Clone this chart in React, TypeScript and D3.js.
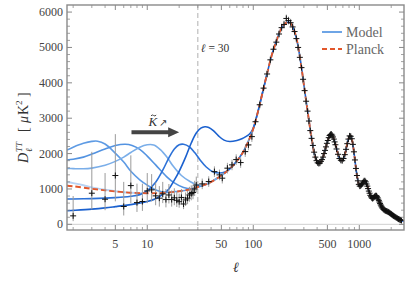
import React from 'react';
import * as d3 from 'd3';

// ---------- data ----------
const planckCurve: [number, number][] = [
  [1.75, 1090], [2, 1075], [3, 1005], [4, 960], [5, 930], [7, 895], [10, 880], [15, 895],
  [20, 935], [25, 985], [30, 1055], [35, 1120], [40, 1200], [50, 1380], [60, 1570], [70, 1790],
  [80, 2040], [93, 2450], [100, 2700], [111, 3200], [120, 3620], [134, 4220], [150, 4800],
  [166, 5200], [180, 5480], [192, 5620], [205, 5700], [215, 5720], [230, 5650], [245, 5450],
  [257, 5220], [270, 4880], [286, 4400], [300, 3950], [319, 3380], [340, 2800], [357, 2380],
  [380, 1950], [400, 1770], [413, 1720], [430, 1740], [450, 1860], [475, 2100], [500, 2330],
  [530, 2530], [550, 2540], [575, 2420], [600, 2230], [630, 1980], [660, 1820], [680, 1800],
  [700, 1830], [730, 1970], [760, 2200], [790, 2420], [820, 2510], [845, 2440], [870, 2250],
  [900, 1930], [930, 1580], [960, 1300], [990, 1130], [1010, 1080], [1040, 1100], [1070, 1160],
  [1100, 1215], [1125, 1235], [1150, 1200], [1200, 1060], [1250, 880], [1300, 760], [1330, 730],
  [1370, 750], [1410, 800], [1450, 810], [1490, 760], [1550, 640], [1600, 540], [1650, 460],
  [1700, 410], [1770, 380], [1850, 360], [1920, 330], [2000, 290], [2100, 240], [2200, 200],
  [2300, 160], [2400, 130], [2500, 105], [2640, 80],
];

const modelK0: [number, number][] = [
  [1.75, 1195], [2, 1165], [2.5, 1105], [3, 1045], [4, 978], [5, 937], [6, 907],
];
const modelK1: [number, number][] = [
  [1.75, 2100], [2, 2180], [2.5, 2290], [3, 2345], [3.4, 2350], [4, 2270], [4.85, 2050], [6, 1760],
  [7, 1500], [8.5, 1260], [10, 1110], [12.4, 960], [15, 905], [18, 925],
];
const modelK2: [number, number][] = [
  [1.75, 1820], [2, 1840], [2.5, 1900], [3, 1985], [4, 2130], [5, 2230], [6.2, 2265], [7.2, 2230],
  [8.5, 2120], [10, 1930], [12, 1680], [15.2, 1350], [18, 1170], [22, 1040], [27, 1005],
];
const modelK3: [number, number][] = [
  [1.75, 1580], [2, 1575], [2.5, 1570], [3, 1590], [4, 1670], [5, 1780], [6, 1900], [7, 2030],
  [8.5, 2180], [10, 2250], [11.5, 2245], [13.3, 2110], [15.5, 1880], [17.6, 1640], [21, 1380],
  [25.3, 1210], [30, 1110], [35, 1120],
];
const modelK4: [number, number][] = [
  [1.75, 716], [2, 718], [3, 728], [4, 740], [5, 755], [6, 772], [7, 795], [8.5, 840], [10, 950],
  [12, 1190], [14, 1530], [16, 1880], [18, 2130], [20, 2250], [22, 2265], [25, 2190], [28, 2030],
  [31.5, 1820], [36, 1620], [42, 1480], [48, 1450], [54, 1480],
];
const modelK5: [number, number][] = [
  [1.75, 385], [2, 395], [3, 430], [4, 465], [5, 500], [6, 530], [8, 585], [10, 645], [12, 725],
  [14, 845], [16, 1000], [18, 1250], [20, 1500], [23, 1900], [26, 2300], [29, 2580], [32, 2720],
  [35, 2760], [38, 2740], [42, 2650], [47, 2500], [53, 2380], [60, 2340], [70, 2370], [78, 2420],
  [85, 2480], [91, 2540], [96, 2620], [100, 2720],
];
const modelCurves = [modelK0, modelK1, modelK2, modelK3, modelK4, modelK5];

// low-ell points: [ell, D, lower, upper]
const lowEllData: [number, number, number, number][] = [
  [2, 240, 90, 800], [3, 880, 420, 2050], [4, 710, 400, 1450], [5, 1380, 650, 2550],
  [6, 505, 250, 1200], [7, 1095, 600, 1950], [8, 615, 350, 1150], [9, 645, 380, 1150],
  [10, 945, 600, 1450], [11, 975, 650, 1420], [12, 805, 540, 1180], [13, 740, 500, 1080],
  [14, 860, 600, 1200], [15, 700, 480, 1000], [16, 830, 590, 1140], [17, 700, 500, 960],
  [18, 750, 540, 1020], [19, 680, 490, 920], [20, 640, 470, 870], [21, 760, 570, 1000],
  [22, 575, 430, 760], [23, 690, 520, 900], [24, 740, 570, 950], [25, 830, 640, 1060],
  [26, 870, 680, 1100], [27, 900, 710, 1120], [28, 1000, 800, 1230], [29, 1110, 900, 1350],
];

// high-ell binned points: [ell, D]
const highEllData: [number, number][] = [
  [33, 1144], [38, 1209], [43, 1490], [48, 1398], [51, 1305], [57, 1588], [63, 1680], [69, 1830],
  [76, 1746], [84, 2056], [90, 2245], [97, 2480], [105, 2900], [115, 3380], [125, 3850],
  [135, 4250], [145, 4650], [155, 4950], [165, 5150], [175, 5380], [185, 5560], [195, 5650],
  [205, 5820], [215, 5760], [225, 5700], [235, 5580], [245, 5450], [255, 5250], [265, 5000],
  [275, 4720], [285, 4430], [295, 4100], [305, 3780], [315, 3480], [325, 3200], [335, 2920],
  [345, 2650], [355, 2430], [365, 2230], [375, 2040], [385, 1900], [395, 1800], [405, 1740],
  [415, 1720], [425, 1730], [435, 1780], [445, 1830], [455, 1900], [465, 2000], [475, 2090],
  [485, 2190], [495, 2290], [505, 2370], [515, 2450], [525, 2510], [535, 2540], [545, 2550],
  [555, 2520], [565, 2470], [575, 2410], [585, 2330], [595, 2250], [610, 2130], [630, 1980],
  [650, 1860], [670, 1810], [690, 1800], [710, 1860], [730, 1970], [750, 2120], [770, 2280],
  [790, 2410], [810, 2500], [830, 2490], [850, 2420], [870, 2260], [890, 2050], [910, 1820],
  [930, 1580], [950, 1380], [970, 1230], [990, 1130], [1010, 1080], [1030, 1090], [1050, 1120],
  [1070, 1160], [1090, 1200], [1110, 1230], [1130, 1230], [1150, 1200], [1170, 1140],
  [1190, 1080], [1210, 1010], [1230, 940], [1250, 880], [1270, 820], [1290, 780], [1310, 750],
  [1330, 730], [1350, 740], [1370, 760], [1390, 780], [1410, 800], [1430, 810], [1450, 805],
  [1470, 780], [1490, 750], [1510, 710], [1530, 670], [1550, 630], [1570, 590], [1590, 550],
  [1610, 520], [1630, 490], [1650, 460], [1680, 430], [1710, 410], [1740, 395], [1770, 385],
  [1800, 375], [1830, 365], [1860, 355], [1890, 345], [1920, 330], [1950, 315], [1980, 300],
  [2010, 285], [2040, 270], [2070, 255], [2100, 240], [2140, 225], [2180, 210], [2220, 195],
  [2260, 180], [2300, 165], [2340, 150], [2380, 140], [2420, 130], [2460, 120], [2500, 110],
];
// error size by ell band: [upper ell of band, error]
const highEllErrBands: [number, number][] = [
  [100, 150], [400, 110], [1000, 55], [1600, 35], [3000, 25],
];

const xMajorTicks = [5, 10, 50, 100, 500, 1000];
const xMinorTicks = [2, 3, 4, 6, 7, 8, 9, 20, 30, 40, 60, 70, 80, 90, 200, 300, 400, 600, 700, 800, 900, 2000];
const yMajorTicks = [0, 1000, 2000, 3000, 4000, 5000, 6000];
const yMinorTicks = d3.range(200, 6200, 200).filter((v) => v % 1000 !== 0);
const ellCut = 30;
const arrowSpan: [number, number] = [7.1, 20];
const arrowLevel = 2600;

// ---------- styles ----------
const MODEL_COLORS = ['#b9d3f3', '#5e9be4', '#5393e1', '#7aaee9', '#2c71d7', '#1b61cf'];
const PLANCK_COLOR = '#e2572b';
const FRAME = '#8a8a8a';
const FONT = '"Liberation Serif", "Times New Roman", serif';

const W = 411;
const H = 288;
const PL = 67, PR = 404, PT = 5, PB = 230;

export default function App() {
  const x = d3.scaleLog().domain([1.75, 2640]).range([PL, PR]);
  const y = d3.scaleLinear().domain([-160, 6200]).range([PB, PT]);
  const line = d3
    .line<[number, number]>()
    .x((d) => x(d[0]))
    .y((d) => y(d[1]))
    .curve(d3.curveCatmullRom.alpha(0.5));

  const fullModel = (low: [number, number][], isLast: boolean) => {
    const last = low[low.length - 1][0];
    const rest = planckCurve.filter((p) => p[0] > last * 1.05 && (isLast || p[0] < last * 2.5));
    return low.concat(rest);
  };
  const errFor = (ell: number) => {
    const band = highEllErrBands.find((b) => ell <= b[0]);
    return band ? band[1] : 25;
  };

  const cross = (cx: number, cy: number, k: string) => (
    <path key={k} d={`M${cx - 3},${cy}H${cx + 3}M${cx},${cy - 3}V${cy + 3}`} stroke="#111" strokeWidth={1} />
  );

  const ax0 = x(arrowSpan[0]);
  const ax1 = x(arrowSpan[1]);
  const ay = y(arrowLevel);
  const kx = ax0 + 17;
  const ky = ay - 6;

  return (
    <svg width={W} height={H} style={{ position: 'absolute', left: 0, top: 0, background: '#fff', fontFamily: FONT }}>
      <defs>
        <clipPath id="plotclip">
          <rect x={PL} y={PT} width={PR - PL} height={PB - PT} />
        </clipPath>
      </defs>
      <rect x={0} y={0} width={W} height={H} fill="#fff" />
      <g clipPath="url(#plotclip)">
        <line x1={PL} x2={PR} y1={y(0)} y2={y(0)} stroke="#d0d0d0" strokeWidth={1} />
        <line x1={x(ellCut)} x2={x(ellCut)} y1={PT} y2={PB} stroke="#b0b0b0" strokeWidth={1} strokeDasharray="5,3" />
        {modelCurves.map((c, i) => (
          <path key={'m' + i} d={line(fullModel(c, i === modelCurves.length - 1)) || ''} fill="none"
            stroke={MODEL_COLORS[i]} strokeWidth={i === 0 ? 2 : 1.6} />
        ))}
        <path d={line(planckCurve) || ''} fill="none" stroke={PLANCK_COLOR} strokeWidth={1.9} strokeDasharray="5.5,3" />
        {lowEllData.map((d, i) => (
          <line key={'le' + i} x1={x(d[0])} x2={x(d[0])} y1={y(d[2])} y2={y(d[3])} stroke="#9a9a9a" strokeWidth={1} />
        ))}
        {highEllData.map((d, i) => (
          <line key={'he' + i} x1={x(d[0])} x2={x(d[0])} y1={y(d[1] - errFor(d[0]))} y2={y(d[1] + errFor(d[0]))}
            stroke="#a0a0a0" strokeWidth={1} />
        ))}
        {lowEllData.map((d, i) => cross(x(d[0]), y(d[1]), 'lc' + i))}
        {highEllData.map((d, i) => cross(x(d[0]), y(d[1]), 'hc' + i))}
      </g>

      {/* frame */}
      <rect x={PL} y={PT} width={PR - PL} height={PB - PT} fill="none" stroke={FRAME} strokeWidth={1.4} />
      {/* x ticks */}
      {xMajorTicks.map((t) => (
        <g key={'xM' + t}>
          <line x1={x(t)} x2={x(t)} y1={PB} y2={PB - 5} stroke={FRAME} strokeWidth={1} />
          <line x1={x(t)} x2={x(t)} y1={PT} y2={PT + 5} stroke={FRAME} strokeWidth={1} />
          <text x={x(t)} y={248} textAnchor="middle" fontSize={12} fill="#444">{t}</text>
        </g>
      ))}
      {xMinorTicks.map((t) => (
        <g key={'xm' + t}>
          <line x1={x(t)} x2={x(t)} y1={PB} y2={PB - 3} stroke={FRAME} strokeWidth={0.8} />
          <line x1={x(t)} x2={x(t)} y1={PT} y2={PT + 3} stroke={FRAME} strokeWidth={0.8} />
        </g>
      ))}
      {/* y ticks */}
      {yMajorTicks.map((t) => (
        <g key={'yM' + t}>
          <line x1={PL} x2={PL + 5} y1={y(t)} y2={y(t)} stroke={FRAME} strokeWidth={1} />
          <line x1={PR} x2={PR - 5} y1={y(t)} y2={y(t)} stroke={FRAME} strokeWidth={1} />
          <text x={63} y={y(t) + 4} textAnchor="end" fontSize={12} fill="#444">{t}</text>
        </g>
      ))}
      {yMinorTicks.map((t) => (
        <g key={'ym' + t}>
          <line x1={PL} x2={PL + 3} y1={y(t)} y2={y(t)} stroke={FRAME} strokeWidth={0.8} />
          <line x1={PR} x2={PR - 3} y1={y(t)} y2={y(t)} stroke={FRAME} strokeWidth={0.8} />
        </g>
      ))}

      {/* axis labels */}
      <text x={236} y={272} textAnchor="middle" fontSize={14} fontStyle="italic" fill="#333">ℓ</text>
      <g transform="translate(28,121) rotate(-90)" fill="#333">
        <text x={-42} y={0} fontSize={14} fontStyle="italic">D</text>
        <text x={-31} y={-6} fontSize={9} fontStyle="italic">TT</text>
        <text x={-31} y={4} fontSize={9} fontStyle="italic">ℓ</text>
        <text x={-11} y={0} fontSize={14}>[</text>
        <text x={-2} y={0} fontSize={14} fontStyle="italic">μ</text>
        <text x={6} y={0} fontSize={14}>K</text>
        <text x={16} y={-6} fontSize={9}>2</text>
        <text x={24} y={0} fontSize={14}>]</text>
      </g>

      {/* ell = 30 label */}
      <text x={x(ellCut) + 3} y={52} fontSize={11.5} fill="#333">
        <tspan fontStyle="italic">ℓ</tspan> = 30
      </text>

      {/* arrow */}
      <path
        d={`M${ax0},${ay - 2}L${ax1 - 11},${ay - 2}L${ax1 - 11},${ay - 5}L${ax1},${ay}L${ax1 - 11},${ay + 5}L${ax1 - 11},${ay + 2}L${ax0},${ay + 2}Z`}
        fill="#444"
      />
      <text x={kx} y={ky} fontSize={13} fontStyle="italic" fill="#333">K</text>
      <path d={`M${kx + 2.5},${ky - 10.5}q1.2,-1.6 2.6,-0.4t2.6,-0.4`} fill="none" stroke="#333" strokeWidth={0.9} />
      <text x={kx + 11} y={ky} fontSize={10} fill="#333">↗</text>

      {/* legend */}
      <line x1={322} x2={342} y1={32} y2={32} stroke="#5e9be4" strokeWidth={1.8} />
      <text x={346} y={36.5} fontSize={14} fill="#666">Model</text>
      <line x1={322} x2={342} y1={49} y2={49} stroke={PLANCK_COLOR} strokeWidth={1.8} strokeDasharray="5,3" />
      <text x={346} y={54} fontSize={14} fill="#666">Planck</text>
    </svg>
  );
}
